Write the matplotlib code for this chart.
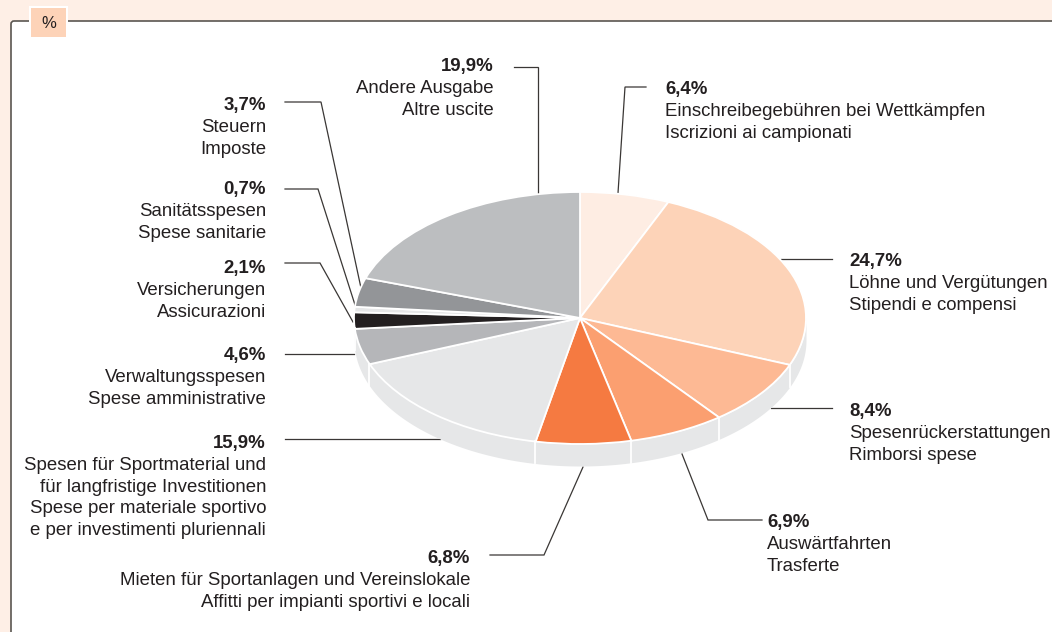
import numpy as np
import matplotlib
matplotlib.use('Agg')
import matplotlib.pyplot as plt
from matplotlib.patches import FancyBboxPatch, Rectangle

plt.rcParams['font.family'] = ['Liberation Sans', 'DejaVu Sans']

# clockwise from the top
values = [6.4, 24.7, 8.4, 6.9, 6.8, 15.9, 4.6, 2.1, 0.7, 3.7, 19.9]
value_labels = ['6,4%', '24,7%', '8,4%', '6,9%', '6,8%', '15,9%', '4,6%', '2,1%', '0,7%', '3,7%', '19,9%']
descriptions = [
    ['Einschreibegebühren bei Wettkämpfen', 'Iscrizioni ai campionati'],
    ['Löhne und Vergütungen', 'Stipendi e compensi'],
    ['Spesenrückerstattungen', 'Rimborsi spese'],
    ['Auswärtfahrten', 'Trasferte'],
    ['Mieten für Sportanlagen und Vereinslokale', 'Affitti per impianti sportivi e locali'],
    ['Spesen für Sportmaterial und', 'für langfristige Investitionen', 'Spese per materiale sportivo', 'e per investimenti pluriennali'],
    ['Verwaltungsspesen', 'Spese amministrative'],
    ['Versicherungen', 'Assicurazioni'],
    ['Sanitätsspesen', 'Spese sanitarie'],
    ['Steuern', 'Imposte'],
    ['Andere Ausgabe', 'Altre uscite'],
]
colors = ['#FEEDE3', '#FDD3B8', '#FDB994', '#FB9F70', '#F57A41', '#E6E7E8',
          '#B5B6B9', '#231F20', '#E6E7E8', '#939598', '#BCBEC0']

W, H = 1052, 632
cx, cy, rx, ry, depth = 580, 318, 226, 126, 22
FS = 13.4
LINE = 21.8

# text anchor (x, first baseline y, ha) and leader polyline per slice
label_pos = [
    (665, 94, 'left'), (849, 266, 'left'), (849, 416, 'left'), (767, 527, 'left'),
    (470, 563, 'right'), (266, 448, 'right'), (266, 360, 'right'), (266, 273, 'right'),
    (266, 194, 'right'), (266, 110, 'right'), (494, 71, 'right'),
]
leaders = [
    [(646, 87), (625, 87), (618, 193)],
    [(832, 259), (781, 259)],
    [(832, 408), (771, 408)],
    [(762, 520), (708, 520), (682, 454)],
    [(490, 555), (544, 555), (583, 467)],
    [(285, 439), (440, 439)],
    [(285, 354), (354, 354)],
    [(285, 263), (320, 263), (353, 322)],
    [(285, 189), (318, 189), (356, 308)],
    [(285, 102), (321, 102), (361, 288)],
    [(514, 67), (538, 67), (538, 193)],
]

fig = plt.figure(figsize=(W / 100, H / 100), dpi=100, facecolor='#FEEFE6')

# page coordinates, in pixels
ax = fig.add_axes([0, 0, 1, 1])
ax.set_xlim(0, W)
ax.set_ylim(H, 0)
ax.axis('off')

panel = FancyBboxPatch((11, 21), W + 40, H + 40, boxstyle='round,pad=0,rounding_size=3',
                       fc='white', ec='#5A5651', lw=1.2, zorder=1)
ax.add_patch(panel)
ax.add_patch(Rectangle((29, 6), 39, 33, fc='white', ec='none', zorder=2))
ax.add_patch(Rectangle((31, 8), 35, 29, fc='#FDD3B8', ec='none', zorder=3))
ax.text(48.5, 23, '%', fontsize=12, ha='center', va='center', color='#231F20', zorder=4)

for pts, (x, y, ha), val, desc in zip(leaders, label_pos, value_labels, descriptions):
    xs, ys = zip(*pts)
    ax.plot(xs, ys, color='#3A3735', lw=0.9, solid_joinstyle='miter', zorder=2)
    ax.text(x, y, val, fontsize=FS, fontweight='bold', ha=ha, va='baseline', color='#231F20', zorder=4)
    for i, line in enumerate(desc):
        ax.text(x, y + LINE * (i + 1), line, fontsize=FS, ha=ha, va='baseline', color='#231F20', zorder=4)

# pie axes: unit circle stretched to the ellipse
pie_ax = fig.add_axes([(cx - rx) / W, 1 - (cy + ry) / H, 2 * rx / W, 2 * ry / H])
pie_ax.patch.set_alpha(0)

dz = depth / ry
t = np.radians(np.linspace(180, 360, 200))
pie_ax.fill_between(np.cos(t), np.sin(t), np.sin(t) - dz, color='#E6E7E8', lw=0, clip_on=False)

edges = 90 - np.cumsum([0] + values) * 3.6
for a in np.radians(edges[1:-1]):
    if np.sin(a) < 0:
        pie_ax.plot([np.cos(a)] * 2, [np.sin(a), np.sin(a) - dz], color='white', lw=1.3, clip_on=False)

wedges, _ = pie_ax.pie(values, colors=colors, startangle=90, counterclock=False, radius=1,
                       wedgeprops=dict(edgecolor='white', linewidth=1.3, clip_on=False))
pie_ax.set_aspect('auto')
pie_ax.set_xlim(-1, 1)
pie_ax.set_ylim(-1, 1)
pie_ax.axis('off')

fig.savefig('out.png', dpi=100, facecolor=fig.get_facecolor())
